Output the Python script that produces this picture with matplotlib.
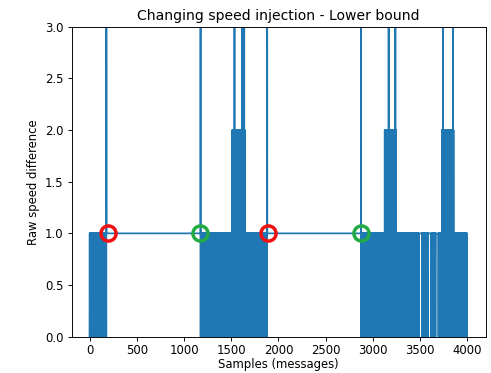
import numpy as np
import matplotlib
matplotlib.use("Agg")
import matplotlib.pyplot as plt

# Run-length description of the signal: each segment alternates between low/high every sample
seg_start = [0, 178, 1176, 1510, 1645, 1881, 2876, 3125, 3247, 3486, 3520, 3586, 3618, 3663, 3696, 3732, 3855]
seg_end   = [178, 1176, 1510, 1645, 1881, 2876, 3125, 3247, 3486, 3520, 3586, 3618, 3663, 3696, 3732, 3855, 3995]
seg_low   = [0, 1, 0, 0, 0, 1, 0, 0, 0, 1, 0, 1, 0, 1, 0, 0, 0]
seg_high  = [1, 1, 1, 2, 1, 1, 1, 2, 1, 1, 1, 1, 1, 1, 1, 2, 1]

# Single-sample spikes that go far above the visible range
spike_x     = [177, 1175, 1534, 1615, 1637, 1880, 2875, 3167, 3238, 3743, 3849]
spike_value = [10, 10, 10, 10, 10, 10, 10, 10, 10, 10, 10]

# Annotation circles
red_x   = [198, 1892]
red_y   = [1.0, 1.0]
green_x = [1173, 2870]
green_y = [1.0, 1.0]

x_ticks = [0, 500, 1000, 1500, 2000, 2500, 3000, 3500, 4000]
y_ticks = [0.0, 0.5, 1.0, 1.5, 2.0, 2.5, 3.0]

# Expand the segments into the sample series
y = np.zeros(seg_end[-1])
for s, e, lo, hi in zip(seg_start, seg_end, seg_low, seg_high):
    vals = np.empty(e - s)
    vals[0::2] = lo
    vals[1::2] = hi
    y[s:e] = vals
for sx, sv in zip(spike_x, spike_value):
    y[sx] = sv
x = np.arange(len(y))

dpi = 83.7
fig = plt.figure(figsize=(491 / dpi, 373 / dpi), dpi=dpi)
ax = fig.add_axes([71.7 / 491, 1 - 336.7 / 373, (485.7 - 71.7) / 491, (336.7 - 26.7) / 373])

ax.plot(x, y, color="#1f77b4", linewidth=1.5)
ax.plot(red_x, red_y, linestyle="none", marker="o", markersize=13,
        markerfacecolor="none", markeredgecolor="#ee1111", markeredgewidth=3)
ax.plot(green_x, green_y, linestyle="none", marker="o", markersize=13,
        markerfacecolor="none", markeredgecolor="#22aa44", markeredgewidth=3)

ax.set_ylim(0, 3)
ax.set_xlim(-190, 4195)
ax.set_xticks(x_ticks)
ax.set_yticks(y_ticks)
ax.tick_params(axis="x", pad=2.5)
ax.set_title("Changing speed injection - Lower bound")
ax.set_xlabel("Samples (messages)", labelpad=1)
ax.set_ylabel("Raw speed difference")

fig.savefig("out.png", dpi=dpi)
